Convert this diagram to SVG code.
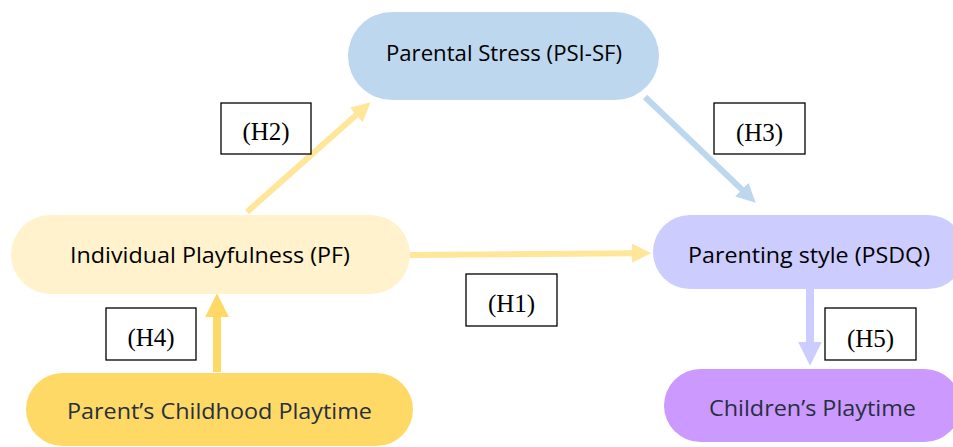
<svg xmlns="http://www.w3.org/2000/svg" width="953" height="447" viewBox="0 0 953 447">
  <style>
    .node-text { font-family: "Open Sans", "Noto Sans", sans-serif; font-size: 22px; text-anchor: middle; }
    .dark { fill: #000000; }
    .slate { fill: #262f3e; }
    .label-box { fill: #ffffff; stroke: #000000; stroke-width: 1.3; }
    .label-text { font-family: "Liberation Serif", "Times New Roman", serif; font-size: 25px; text-anchor: middle; fill: #000000; }
    .conn { fill: none; stroke-linecap: butt; }
  </style>
  <defs>
    <marker id="head-cream" viewBox="0 0 10 10" refX="0.5" refY="5" markerUnits="strokeWidth" markerWidth="3.2" markerHeight="3.2" orient="auto">
      <path d="M0,0 L10,5 L0,10 z" fill="#ffe699"/>
    </marker>
    <marker id="head-blue" viewBox="0 0 10 10" refX="0.5" refY="5" markerUnits="strokeWidth" markerWidth="3.2" markerHeight="3.2" orient="auto">
      <path d="M0,0 L10,5 L0,10 z" fill="#bdd7ee"/>
    </marker>
    <marker id="head-gold" viewBox="0 0 10 10" refX="0.5" refY="5" markerUnits="strokeWidth" markerWidth="3" markerHeight="3" orient="auto">
      <path d="M0,0 L10,5 L0,10 z" fill="#ffd966"/>
    </marker>
    <marker id="head-lilac" viewBox="0 0 10 10" refX="0.5" refY="5" markerUnits="strokeWidth" markerWidth="3" markerHeight="3" orient="auto">
      <path d="M0,0 L10,5 L0,10 z" fill="#ccccff"/>
    </marker>
  </defs>

  <rect width="953" height="447" fill="#ffffff"/>

  <!-- connectors -->
  <g id="connectors">
    <line class="conn" x1="247" y1="212" x2="357" y2="114.3" stroke="#ffe699" stroke-width="6" marker-end="url(#head-cream)"/>
    <line class="conn" x1="645" y1="97" x2="742.5" y2="190.2" stroke="#bdd7ee" stroke-width="6" marker-end="url(#head-blue)"/>
    <line class="conn" x1="410" y1="255" x2="633" y2="253.2" stroke="#ffe699" stroke-width="6" marker-end="url(#head-cream)"/>
    <line class="conn" x1="217" y1="372" x2="217" y2="316" stroke="#ffd966" stroke-width="8" marker-end="url(#head-gold)"/>
    <line class="conn" x1="810" y1="289" x2="810" y2="343" stroke="#ccccff" stroke-width="8" marker-end="url(#head-lilac)"/>
  </g>

  <!-- nodes -->
  <g id="parental-stress">
    <rect x="348" y="12" width="311" height="88" rx="44" fill="#bdd7ee"/>
    <text class="node-text dark" x="504" y="61" textLength="236" lengthAdjust="spacingAndGlyphs">Parental Stress (PSI-SF)</text>
  </g>
  <g id="individual-playfulness">
    <rect x="11" y="215" width="399" height="79" rx="39.5" fill="#fff2cc"/>
    <text class="node-text dark" x="210" y="263" textLength="280" lengthAdjust="spacingAndGlyphs">Individual Playfulness (PF)</text>
  </g>
  <g id="parenting-style">
    <rect x="653" y="215" width="312" height="74" rx="37" fill="#ccccff"/>
    <text class="node-text dark" x="809" y="263" textLength="242" lengthAdjust="spacingAndGlyphs">Parenting style (PSDQ)</text>
  </g>
  <g id="childhood-playtime">
    <rect x="26" y="373" width="387" height="73" rx="36.5" fill="#ffd966"/>
    <text class="node-text slate" x="219.5" y="419" textLength="305" lengthAdjust="spacingAndGlyphs">Parent’s Childhood Playtime</text>
  </g>
  <g id="childrens-playtime">
    <rect x="664" y="369" width="297" height="73" rx="36.5" fill="#cc99ff"/>
    <text class="node-text slate" x="812.5" y="416" textLength="207" lengthAdjust="spacingAndGlyphs">Children’s Playtime</text>
  </g>

  <!-- hypothesis labels -->
  <g id="label-h2">
    <rect class="label-box" x="221" y="103" width="90" height="51"/>
    <text class="label-text" x="266" y="140">(H2)</text>
  </g>
  <g id="label-h3">
    <rect class="label-box" x="714" y="103" width="91" height="51"/>
    <text class="label-text" x="759.5" y="141">(H3)</text>
  </g>
  <g id="label-h1">
    <rect class="label-box" x="466" y="274" width="91" height="52"/>
    <text class="label-text" x="511.5" y="312">(H1)</text>
  </g>
  <g id="label-h4">
    <rect class="label-box" x="106" y="308" width="90" height="52"/>
    <text class="label-text" x="151" y="346">(H4)</text>
  </g>
  <g id="label-h5">
    <rect class="label-box" x="825" y="308" width="91" height="52"/>
    <text class="label-text" x="870.5" y="347">(H5)</text>
  </g>
</svg>
